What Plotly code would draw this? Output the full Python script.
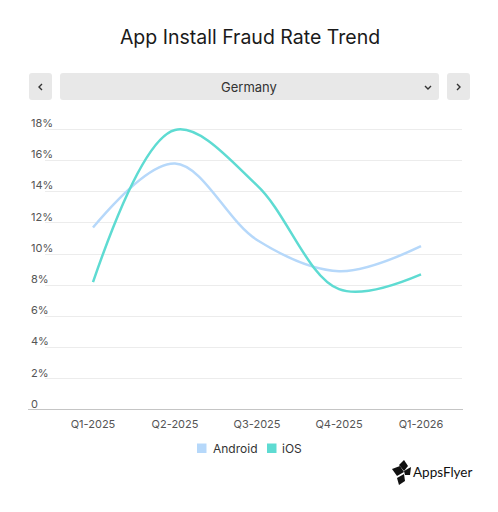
import plotly.graph_objects as go

quarters = ["Q1-2025", "Q2-2025", "Q3-2025", "Q4-2025", "Q1-2026"]
android = [11.7, 15.8, 10.9, 8.9, 10.5]
ios = [8.2, 17.95, 14.4, 7.75, 8.7]
ytick_vals = [0, 2, 4, 6, 8, 10, 12, 14, 16, 18]
ytick_text = ["0", "2%", "4%", "6%", "8%", "10%", "12%", "14%", "16%", "18%"]
series_names = ["Android", "iOS"]
country = "Germany"
title = "App Install Fraud Rate Trend"

ANDROID_C = "#b6d8fa"
IOS_C = "#5edbd2"
OFF = 8  # page body margin
W, H = 498 - OFF, 512 - OFF
L, R, T, B = 45 - OFF, 36, 114 - OFF, 102
PW, PH = W - L - R, H - T - B
UNIT = 15.6  # px per percentage point


def px(x):
    return (x - OFF - L) / PW


def py(y):
    return (H - B - (y - OFF)) / PH


fig = go.Figure()
for nm, vals, c in [(series_names[0], android, ANDROID_C), (series_names[1], ios, IOS_C)]:
    fig.add_trace(go.Scatter(x=quarters, y=vals, mode="lines", name=nm,
                             line=dict(color=c, width=2.5, shape="spline", smoothing=1),
                             showlegend=False))


def rrect(x0, y0, x1, y1, r=3):
    rx, ry = r / PW, r / PH
    X0, X1 = px(x0), px(x1)
    Y0, Y1 = py(y0), py(y1)
    return (f"M {X0+rx},{Y0} L {X1-rx},{Y0} Q {X1},{Y0} {X1},{Y0-ry} "
            f"L {X1},{Y1+ry} Q {X1},{Y1} {X1-rx},{Y1} L {X0+rx},{Y1} "
            f"Q {X0},{Y1} {X0},{Y1+ry} L {X0},{Y0-ry} Q {X0},{Y0} {X0+rx},{Y0} Z")


shapes = []
# baseline (extends under the tick labels like the reference)
shapes.append(dict(type="line", xref="paper", yref="y", x0=px(28), x1=px(463), y0=0, y1=0,
                   line=dict(color="#8a8a8a", width=1)))

for (a, b) in [(29, 52), (60, 439), (447, 470)]:
    shapes.append(dict(type="path", xref="paper", yref="paper", path=rrect(a, 73, b, 100),
                       fillcolor="#e8e8e8", line=dict(width=0), layer="above"))


def polyline(pts, closed=False):
    s = "M " + " L ".join(f"{px(x)},{py(y)}" for x, y in pts)
    return s + (" Z" if closed else "")


chev_line = dict(color="#333333", width=1.4)
shapes.append(dict(type="path", xref="paper", yref="paper",
                   path=polyline([(42, 84), (39, 87), (42, 90)]), line=chev_line))
shapes.append(dict(type="path", xref="paper", yref="paper",
                   path=polyline([(457, 84), (460, 87), (457, 90)]), line=chev_line))
shapes.append(dict(type="path", xref="paper", yref="paper",
                   path=polyline([(425, 86), (428, 89), (431, 86)]), line=chev_line))

# AppsFlyer logo icon (approximation)
logo_polys = [
    [(392, 469), (400, 466), (404, 472), (397, 476)],
    [(399, 465), (404, 460), (408, 466), (404, 471)],
    [(404, 471), (411, 467), (410, 475), (405, 475)],
    [(397, 478), (404, 474), (405, 481), (399, 485)],
]
for poly in logo_polys:
    shapes.append(dict(type="path", xref="paper", yref="paper", path=polyline(poly, True),
                       fillcolor="#111111", line=dict(width=0)))

annotations = [
    dict(text=country, x=px(249), y=py(87), xref="paper", yref="paper", showarrow=False,
         font=dict(family="Inter", size=13, color="#333333"), xanchor="center", yanchor="middle"),
    dict(text="AppsFlyer", x=px(411), y=py(472), xref="paper", yref="paper", showarrow=False,
         font=dict(family="Lato", size=13.5, color="#111111"), xanchor="left", yanchor="middle"),
]

# legend (square swatches + labels)
legend_pos = [(197, 211), (267, 280)]
for (sx, tx), nm, c in zip(legend_pos, series_names, [ANDROID_C, IOS_C]):
    shapes.append(dict(type="rect", xref="paper", yref="paper",
                       x0=px(sx), x1=px(sx + 9.5), y0=py(443.5), y1=py(453),
                       fillcolor=c, line=dict(width=0)))
    annotations.append(dict(text=nm, x=px(tx), y=py(448), xref="paper", yref="paper",
                            showarrow=False, xanchor="left", yanchor="middle",
                            font=dict(family="Inter", size=12, color="#333333")))

fig.update_layout(
    width=W, height=H,
    margin=dict(l=L, r=R, t=T, b=B, autoexpand=False),
    paper_bgcolor="white", plot_bgcolor="white",
    showlegend=False,
    title=dict(text=title, x=(250 - OFF) / W, xref="container", xanchor="center",
               y=1 - (37 - OFF) / H, yref="container", yanchor="middle",
               font=dict(family="Inter", size=19.5, color="#1a1a1a")),
    xaxis=dict(type="category", range=[-(93 - 45) / 82, 4.5], showgrid=False, zeroline=False,
               showline=False, ticks="", ticklabelstandoff=6,
               tickfont=dict(family="Inter", size=11, color="#555555"), fixedrange=True),
    yaxis=dict(range=[0, PH / UNIT], tickvals=ytick_vals, ticktext=ytick_text,
               ticklabelposition="inside", ticklabelshift=-6, ticklabelstandoff=-17,
               ticklabeloverflow="allow",
               showgrid=True, gridcolor="#ececec", gridwidth=1, zeroline=False,
               showline=False, ticks="",
               tickfont=dict(family="Inter", size=11, color="#555555"), fixedrange=True),
    shapes=shapes,
    annotations=annotations,
)

fig.write_html("out.html", config={"displayModeBar": False})
